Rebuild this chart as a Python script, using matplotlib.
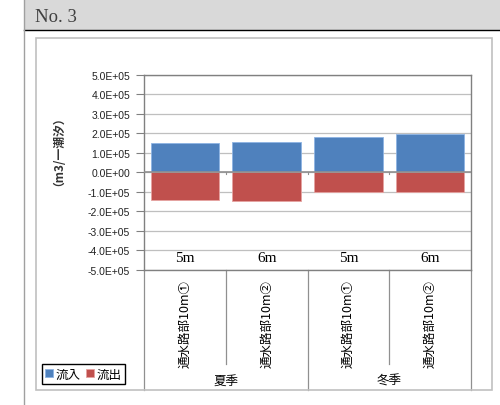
import matplotlib.pyplot as plt
from matplotlib.patches import Rectangle
from matplotlib.lines import Line2D
import matplotlib.transforms as mtransforms

plt.rcParams['font.family'] = ['Noto Sans CJK JP', 'DejaVu Sans']

# data
cases = ["通水路部10m①", "通水路部10m②", "通水路部10m①", "通水路部10m②"]
seasons = ["夏季", "冬季"]
depth_labels = ["5m", "6m", "5m", "6m"]
inflow = [1.49e5, 1.55e5, 1.78e5, 1.95e5]
outflow = [-1.44e5, -1.50e5, -1.01e5, -1.01e5]
yticks = [i * 1e5 for i in range(-5, 6)]
ytick_labels = ["%.1fE+05" % (v / 1e5) if v != 0 else "0.0E+00" for v in yticks]

W, H = 500, 406
fig = plt.figure(figsize=(W / 100, H / 100), dpi=100)


def fx(px):
    return px / W


def fy(py):
    return 1 - py / H


# page decoration: header band, lines, chart frame
fig.patches.append(Rectangle((fx(24), fy(31)), fx(500 - 24), 31 / H,
                             transform=fig.transFigure, facecolor="#d9d9d9",
                             edgecolor="none", zorder=0))
fig.lines.append(Line2D([fx(24), 1], [fy(31), fy(31)], transform=fig.transFigure,
                        color="black", lw=1.0))
fig.lines.append(Line2D([fx(24), fx(24)], [0, 1], transform=fig.transFigure,
                        color="#a0a0a0", lw=1.0))
fig.text(fx(35), fy(18), "No. 3", family="Liberation Serif", fontsize=13.5,
         color="#404040", va="center", ha="left")
fig.patches.append(Rectangle((fx(35.5), fy(391)), fx(492 - 35.5), (391 - 39) / H,
                             transform=fig.transFigure, facecolor="none",
                             edgecolor="#c0c0c0", lw=1.2))

# plot area
ax = fig.add_axes([fx(144), fy(270.7), fx(471 - 144), (270.7 - 75.7) / H])
x = list(range(len(cases)))
ax.bar(x, inflow, width=0.84, color="#4f81bd", edgecolor="#8eb4e3", lw=0.6,
       zorder=3, label="流入")
ax.bar(x, outflow, width=0.84, color="#c0504d", edgecolor="#e6a3a1", lw=0.6,
       zorder=3, label="流出")
ax.set_xlim(-0.5, len(cases) - 0.5)
ax.set_ylim(-5e5, 5e5)
ax.set_yticks(yticks)
ax.set_yticklabels(ytick_labels, family="Liberation Sans", fontsize=7.5,
                   color="#222222")
ax.tick_params(axis="y", length=6, width=0.8, color="#808080", pad=4)
ax.set_xticks([])
ax.grid(axis="y", color="#bfbfbf", lw=0.9, zorder=0)
ax.axhline(0, color="#909090", lw=1.2, zorder=4)
for b in [0.5, 1.5, 2.5]:
    ax.plot([b, b], [0, -0.08e5], color="#909090", lw=0.8, zorder=4)
for s in ax.spines.values():
    s.set_color("#808080")
    s.set_linewidth(1.0)

for xi, lab in zip(x, depth_labels):
    ax.text(xi, -4.37e5, lab, family="Liberation Serif", fontsize=11,
            ha="center", va="center", zorder=5)

# y axis title
fig.text(fx(53), fy(145), "（m3/一潮汐）", rotation=90, fontsize=8.5,
         fontweight="bold", color="#333333", ha="center", va="center")

# category table below the axis
trans = mtransforms.blended_transform_factory(ax.transData, fig.transFigure)
for b in [0.5, 2.5]:
    ax.add_line(Line2D([b, b], [fy(270.7), fy(365)], transform=trans,
                       color="#909090", lw=0.9, clip_on=False))
for b in [-0.5, 1.5, 3.5]:
    ax.add_line(Line2D([b, b], [fy(270.7), fy(391)], transform=trans,
                       color="#909090", lw=0.9, clip_on=False))
for xi, lab in zip(x, cases):
    ax.text(xi, fy(324), lab, transform=trans, rotation=90, fontsize=9,
            ha="center", va="center")
for gi, lab in enumerate(seasons):
    ax.text(gi * 2 + 0.5, fy(381), lab, transform=trans, fontsize=9,
            ha="center", va="center")

fig.legend(loc="lower left", bbox_to_anchor=(fx(42), fy(384.5)), ncol=2,
           fontsize=9, handlelength=0.6, handleheight=0.6, handletextpad=0.2,
           columnspacing=0.5, borderpad=0.25, borderaxespad=0, fancybox=False,
           edgecolor="black", framealpha=1)

fig.savefig("out.png", dpi=100)
